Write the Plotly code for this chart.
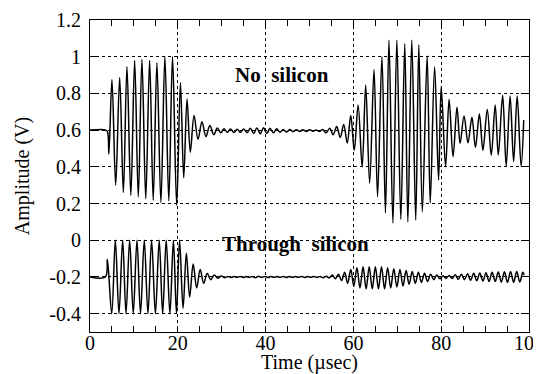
import plotly.graph_objects as go

# ---------------- data ----------------
# Upper trace ("No silicon"): extrema (time in µs, amplitude in V)
top_time_onset = [0, 3.6, 4.0, 4.3]
top_amp_onset = [0.60, 0.60, 0.59, 0.47]

top_time_burst1 = [5.0, 5.85, 6.76, 7.6, 8.42, 9.3, 10.17, 11.0, 11.83, 12.7,
                   13.58, 14.4, 15.24, 16.15, 17.06, 17.95, 18.8, 19.75, 20.6, 21.35,
                   22.1, 22.85, 23.7, 24.6, 25.5, 26.4, 27.3, 28.2]
top_amp_burst1 = [0.876, 0.30, 0.887, 0.26, 0.945, 0.245, 0.98, 0.236, 0.985, 0.227,
                  0.98, 0.218, 0.967, 0.205, 1.0, 0.215, 1.0, 0.19, 0.86, 0.34,
                  0.77, 0.48, 0.68, 0.55, 0.645, 0.565, 0.625, 0.575]

top_time_quiet = [29.0, 29.8, 30.5, 31.3, 32.0, 32.8, 33.5, 34.3, 35.0, 35.8,
                  36.5, 37.3, 38.0, 38.8, 39.5, 40.3, 41.0, 41.8, 42.5, 43.3,
                  44.0, 44.8, 45.5, 46.3, 47.0, 47.8, 48.5, 49.3, 50.0, 50.8,
                  51.5, 52.3, 53.0, 53.8]
top_amp_quiet = [0.612, 0.585, 0.607, 0.588, 0.606, 0.587, 0.605, 0.588, 0.606, 0.586,
                 0.610, 0.582, 0.612, 0.580, 0.613, 0.582, 0.610, 0.585, 0.607, 0.588,
                 0.604, 0.590, 0.603, 0.592, 0.602, 0.592, 0.602, 0.593, 0.602, 0.594,
                 0.601, 0.593, 0.603, 0.585]

top_time_burst2 = [54.6, 55.4, 56.2, 57.0, 57.8, 58.6, 59.4, 60.2, 61.07, 62.0,
                   62.8, 63.7, 64.7, 65.5, 66.5, 67.3, 68.1, 69.0, 69.9, 70.8,
                   71.7, 72.4, 73.3, 74.2, 74.9, 75.7, 76.8, 77.5, 78.5, 79.4,
                   80.0, 81.0, 81.8, 82.7, 83.6, 84.3, 85.2, 86.1, 87.0, 87.8,
                   88.7, 89.5, 90.5, 91.4, 92.3, 93.0, 94.0, 94.8, 95.7, 96.5,
                   97.3, 98.2, 98.8]
top_amp_burst2 = [0.610, 0.575, 0.620, 0.560, 0.630, 0.530, 0.680, 0.490, 0.737, 0.400,
                  0.846, 0.310, 0.930, 0.237, 1.000, 0.150, 1.090, 0.094, 1.090, 0.114,
                  1.070, 0.100, 1.090, 0.110, 1.064, 0.155, 1.004, 0.204, 0.945, 0.328,
                  0.837, 0.400, 0.768, 0.455, 0.724, 0.528, 0.677, 0.531, 0.670, 0.506,
                  0.688, 0.490, 0.713, 0.464, 0.737, 0.464, 0.790, 0.404, 0.786, 0.428,
                  0.786, 0.404, 0.655]

# Lower trace ("Through silicon")
bot_time_onset = [0, 3.5, 3.95]
bot_amp_onset = [-0.20, -0.20, -0.105]

bot_time_burst1 = [4.95, 5.77, 6.6, 7.44, 8.2, 9.03, 9.85, 10.7, 11.5, 12.36,
                   13.2, 14.03, 14.9, 15.77, 16.55, 17.36, 18.2, 19.0, 19.7, 20.4,
                   21.2, 21.95, 22.7, 23.5, 24.3, 25.1, 25.9, 26.7, 27.5, 28.3,
                   29.1, 29.9, 30.7]
bot_amp_burst1 = [-0.40, 0.0, -0.40, 0.0, -0.40, 0.0, -0.40, 0.0, -0.40, 0.0,
                  -0.40, 0.0, -0.40, 0.0, -0.40, 0.0, -0.40, 0.0, -0.40, 0.0,
                  -0.37, -0.07, -0.31, -0.13, -0.26, -0.16, -0.235, -0.18, -0.215, -0.19,
                  -0.207, -0.195, -0.204]

bot_time_quiet = [31.4, 32.1, 32.8, 33.5, 34.2, 34.9, 35.6, 36.3, 37.0, 37.7,
                  38.4, 39.1, 39.8, 40.5, 41.2, 41.9, 42.6, 43.3, 44.0, 44.7,
                  45.4, 46.1, 46.8, 47.5, 48.2, 48.9, 49.6, 50.3, 51.0, 51.7,
                  52.4, 53.1]
bot_amp_quiet = [-0.197, -0.203, -0.198, -0.202, -0.197, -0.203, -0.198, -0.202, -0.197, -0.204,
                 -0.196, -0.203, -0.197, -0.203, -0.198, -0.202, -0.198, -0.202, -0.197, -0.203,
                 -0.198, -0.202, -0.198, -0.202, -0.197, -0.203, -0.198, -0.202, -0.197, -0.203,
                 -0.197, -0.204]

bot_time_burst2 = [53.8, 54.5, 55.2, 55.9, 56.6, 57.3, 58.0, 58.7, 59.4, 60.1,
                   60.8, 61.5, 62.2, 62.9, 63.6, 64.3, 65.0, 65.7, 66.4, 67.1,
                   67.8, 68.5, 69.2, 69.9, 70.6, 71.3, 72.0, 72.7, 73.4, 74.1,
                   74.8, 75.5, 76.2, 76.9, 77.6, 78.3, 79.0, 79.7, 80.4, 81.1,
                   81.8, 82.5, 83.2, 83.9, 84.6, 85.3, 86.0, 86.7, 87.4, 88.1,
                   88.8, 89.5, 90.2, 90.9, 91.6, 92.3, 93.0, 93.7, 94.4, 95.1,
                   95.8, 96.5, 97.2, 97.9, 98.6, 98.9]
bot_amp_burst2 = [-0.196, -0.205, -0.190, -0.210, -0.185, -0.220, -0.175, -0.235, -0.160, -0.250,
                  -0.150, -0.260, -0.145, -0.265, -0.145, -0.265, -0.145, -0.265, -0.145, -0.265,
                  -0.150, -0.260, -0.155, -0.255, -0.160, -0.250, -0.165, -0.240, -0.170, -0.235,
                  -0.175, -0.230, -0.180, -0.225, -0.185, -0.215, -0.190, -0.210, -0.193, -0.207,
                  -0.192, -0.208, -0.188, -0.213, -0.185, -0.215, -0.182, -0.218, -0.180, -0.220,
                  -0.178, -0.222, -0.177, -0.225, -0.175, -0.225, -0.173, -0.228, -0.172, -0.230,
                  -0.170, -0.230, -0.170, -0.228, -0.175, -0.190]

x_tick_vals = [0, 20, 40, 60, 80, 100]
x_tick_text = ["0", "20", "40", "60", "80", "100"]
y_tick_vals = [-0.4, -0.2, 0, 0.2, 0.4, 0.6, 0.8, 1.0, 1.2]
y_tick_text = ["-0.4", "-0.2", "0", "0.2", "0.4", "0.6", "0.8", "1", "1.2"]

labels = ["No\u00a0 silicon", "Through\u00a0 silicon"]

# ---------------- figure ----------------
top_time = top_time_onset + top_time_burst1 + top_time_quiet + top_time_burst2
top_amp = top_amp_onset + top_amp_burst1 + top_amp_quiet + top_amp_burst2
bot_time = bot_time_onset + bot_time_burst1 + bot_time_quiet + bot_time_burst2
bot_amp = bot_amp_onset + bot_amp_burst1 + bot_amp_quiet + bot_amp_burst2

FONT = "Liberation Serif, Times New Roman, serif"
line_style = dict(color="black", width=1.5, shape="spline", smoothing=1.0)

fig = go.Figure()
fig.add_trace(go.Scatter(x=top_time, y=top_amp, mode="lines", line=line_style,
                         showlegend=False, hoverinfo="skip"))
fig.add_trace(go.Scatter(x=bot_time, y=bot_amp, mode="lines", line=line_style,
                         showlegend=False, hoverinfo="skip"))

fig.add_annotation(x=55.0, y=0.90, xref="x", yref="y", text="<b>" + labels[0] + "</b>",
                   showarrow=False, xanchor="right", yanchor="middle",
                   font=dict(family=FONT, size=21, color="black"))
fig.add_annotation(x=63.9, y=-0.02, xref="x", yref="y", text="<b>" + labels[1] + "</b>",
                   showarrow=False, xanchor="right", yanchor="middle",
                   font=dict(family=FONT, size=21, color="black"))

axis_common = dict(
    showline=True, linecolor="black", linewidth=1.2, mirror="allticks",
    ticks="inside", tickcolor="black", tickwidth=1,
    showgrid=True, gridcolor="black", gridwidth=1, griddash="dot",
    zeroline=False, automargin=False,
    tickfont=dict(family=FONT, size=20, color="black"),
)

fig.update_xaxes(
    range=[0, 100], tickmode="array", tickvals=x_tick_vals, ticktext=x_tick_text,
    ticklen=6, ticklabelstandoff=-7, ticklabeloverflow="allow",
    minor=dict(dtick=5, tick0=0, ticks="inside", ticklen=6, tickcolor="black", showgrid=False),
    title=dict(text="Time (µsec)", font=dict(family=FONT, size=20, color="black"), standoff=9),
    **axis_common,
)
fig.update_yaxes(
    range=[-0.5, 1.2], tickmode="array", tickvals=y_tick_vals, ticktext=y_tick_text,
    ticklen=8, ticklabelstandoff=4,
    title=dict(text="Amplitude (V)", font=dict(family=FONT, size=20, color="black"), standoff=14),
    **axis_common,
)

# the page body adds an 8px offset, so the figure is sized to end at the window edge
fig.update_layout(
    width=533, height=366,
    margin=dict(l=82, r=12, t=12, b=42),
    paper_bgcolor="white", plot_bgcolor="white",
)

fig.write_html("out.html")
